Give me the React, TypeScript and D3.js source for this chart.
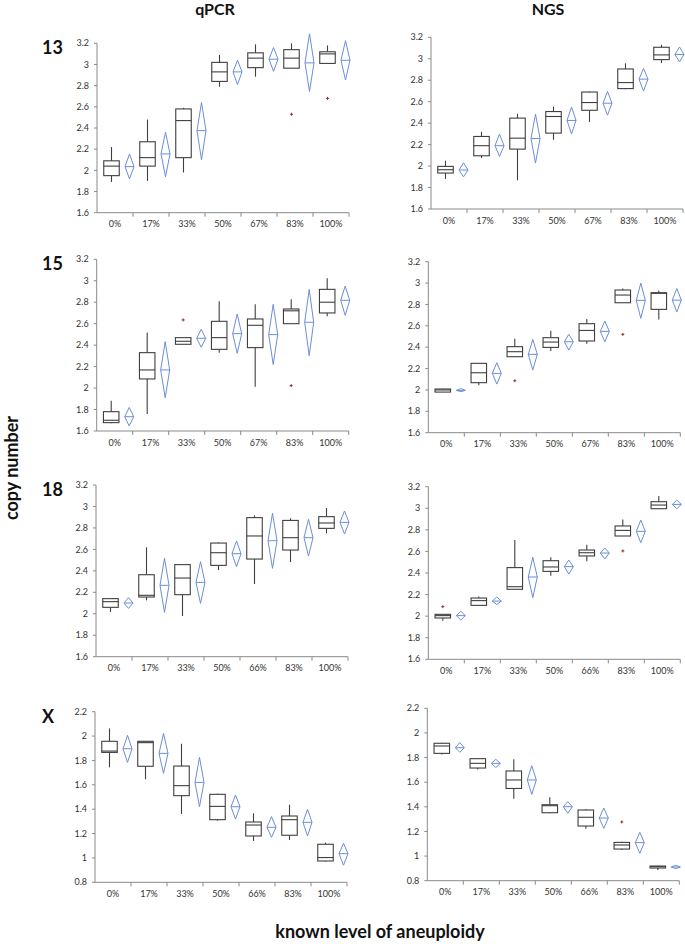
import * as d3 from "d3";

// categories
const catsA = ["0%", "17%", "33%", "50%", "67%", "83%", "100%"];
const catsB = ["0%", "17%", "33%", "50%", "66%", "83%", "100%"];

// y tick labels
const ticksHigh = ["1.6", "1.8", "2", "2.2", "2.4", "2.6", "2.8", "3", "3.2"];
const ticksLow = ["0.8", "1", "1.2", "1.4", "1.6", "1.8", "2", "2.2"];

// box stats: [low whisker, q1, median, q3, high whisker]
// mean diamonds: [ci low, mean, ci high]
// outliers: [category index, value]
const q13Box = [[1.89, 1.95, 2.04, 2.09, 2.22], [1.9, 2.04, 2.12, 2.27, 2.48], [1.98, 2.12, 2.47, 2.58, 2.59], [2.79, 2.84, 2.93, 3.02, 3.09], [2.885, 2.97, 3.06, 3.11, 3.19], [2.965, 2.965, 3.06, 3.14, 3.2], [3.01, 3.01, 3.1, 3.12, 3.18]];
const q13Mean = [[1.92, 2.035, 2.155], [1.94, 2.155, 2.36], [2.1, 2.375, 2.64], [2.81, 2.93, 3.04], [2.935, 3.05, 3.16], [2.745, 3.015, 3.29], [2.853, 3.04, 3.225]];
const q13Out = [[5, 2.53], [6, 2.68]];

const n13Box = [[1.88, 1.935, 1.966, 1.997, 2.05], [2.074, 2.096, 2.19, 2.276, 2.32], [1.867, 2.158, 2.26, 2.447, 2.487], [2.245, 2.307, 2.462, 2.508, 2.555], [2.412, 2.52, 2.592, 2.69, 2.695], [2.716, 2.722, 2.778, 2.905, 2.958], [2.96, 2.992, 3.036, 3.107, 3.13]];
const n13Mean = [[1.9, 1.963, 2.03], [2.09, 2.19, 2.298], [2.028, 2.257, 2.484], [2.3, 2.425, 2.55], [2.474, 2.586, 2.695], [2.7, 2.81, 2.909], [2.97, 3.04, 3.11]];
const n13Out: number[][] = [];

const q15Box = [[1.672, 1.678, 1.7, 1.78, 1.883], [1.758, 2.085, 2.169, 2.33, 2.517], [2.408, 2.408, 2.436, 2.47, 2.47], [2.33, 2.361, 2.47, 2.622, 2.81], [2.013, 2.377, 2.585, 2.644, 2.78], [2.6, 2.6, 2.72, 2.737, 2.827], [2.669, 2.7, 2.8, 2.92, 3.023]];
const q15Mean = [[1.647, 1.733, 1.82], [1.91, 2.169, 2.433], [2.38, 2.464, 2.548], [2.324, 2.507, 2.69], [2.22, 2.498, 2.78], [2.302, 2.613, 2.92], [2.678, 2.818, 2.95]];
const q15Out = [[2, 2.635], [5, 2.023]];

const n15Box = [[1.98, 1.98, 2.0, 2.009, 2.012], [2.043, 2.068, 2.161, 2.249, 2.249], [2.311, 2.311, 2.358, 2.405, 2.479], [2.364, 2.398, 2.448, 2.489, 2.554], [2.432, 2.458, 2.557, 2.62, 2.663], [2.816, 2.816, 2.888, 2.935, 2.95], [2.66, 2.754, 2.904, 2.91, 2.93]];
const n15Mean = [[1.984, 1.996, 2.012], [2.055, 2.155, 2.255], [2.186, 2.333, 2.473], [2.373, 2.451, 2.52], [2.45, 2.548, 2.645], [2.67, 2.838, 3.0], [2.73, 2.84, 2.95]];
const n15Out = [[2, 2.086], [5, 2.52]];

const q18Box = [[2.016, 2.06, 2.113, 2.141, 2.141], [2.125, 2.156, 2.172, 2.364, 2.619], [1.979, 2.178, 2.333, 2.458, 2.458], [2.408, 2.451, 2.569, 2.659, 2.666], [2.277, 2.51, 2.725, 2.896, 2.917], [2.482, 2.594, 2.709, 2.87, 2.89], [2.75, 2.796, 2.846, 2.905, 2.986]];
const q18Mean = [[2.05, 2.1, 2.15], [2.013, 2.265, 2.517], [2.097, 2.293, 2.485], [2.439, 2.56, 2.678], [2.423, 2.681, 2.936], [2.538, 2.709, 2.88], [2.743, 2.852, 2.958]];
const q18Out: number[][] = [];

const n18Box = [[1.958, 1.983, 2.005, 2.017, 2.017], [2.1, 2.1, 2.144, 2.168, 2.181], [2.249, 2.249, 2.273, 2.45, 2.706], [2.375, 2.415, 2.456, 2.514, 2.545], [2.508, 2.558, 2.588, 2.613, 2.663], [2.743, 2.743, 2.795, 2.836, 2.897], [2.996, 2.996, 3.03, 3.061, 3.114]];
const n18Mean = [[1.964, 2.005, 2.045], [2.107, 2.14, 2.178], [2.171, 2.363, 2.545], [2.39, 2.459, 2.52], [2.53, 2.585, 2.632], [2.681, 2.786, 2.891], [2.996, 3.036, 3.076]];
const n18Out = [[0, 2.088], [5, 2.604]];

const qXBox = [[1.743, 1.866, 1.877, 1.957, 2.063], [1.645, 1.752, 1.946, 1.957, 1.957], [1.361, 1.511, 1.593, 1.754, 1.937], [1.306, 1.314, 1.423, 1.522, 1.527], [1.139, 1.18, 1.27, 1.295, 1.366], [1.147, 1.186, 1.314, 1.344, 1.437], [0.97, 0.975, 1.003, 1.112, 1.125]];
const qXMean = [[1.784, 1.896, 2.006], [1.694, 1.858, 2.022], [1.421, 1.62, 1.825], [1.319, 1.42, 1.516], [1.169, 1.251, 1.339], [1.18, 1.292, 1.399], [0.94, 1.035, 1.12]];
const qXOut: number[][] = [];

const nXBox = [[1.824, 1.834, 1.894, 1.916, 1.921], [1.704, 1.715, 1.753, 1.791, 1.797], [1.466, 1.549, 1.618, 1.691, 1.786], [1.347, 1.352, 1.409, 1.417, 1.477], [1.222, 1.244, 1.315, 1.374, 1.38], [1.049, 1.057, 1.09, 1.111, 1.117], [0.887, 0.903, 0.914, 0.919, 0.922]];
const nXMean = [[1.843, 1.88, 1.921], [1.718, 1.753, 1.786], [1.501, 1.618, 1.734], [1.347, 1.401, 1.442], [1.225, 1.309, 1.39], [1.022, 1.109, 1.193], [0.898, 0.911, 0.925]];
const nXOut = [[5, 1.277]];

const rowLabels = ["13", "15", "18", "X"];

const AXIS = "#8a8a8a";
const BOX = "#3f3f3f";
const BLUE = "#6a8fd8";
const RED = "#9b2c2c";
const FONT = "Lato, 'Open Sans', sans-serif";

// panel placement
const panels = [
  { box: q13Box, mean: q13Mean, out: q13Out, cats: catsA, ticks: ticksHigh, x0: 97, yTop: 43.3, yBot: 212.7 },
  { box: n13Box, mean: n13Mean, out: n13Out, cats: catsA, ticks: ticksHigh, x0: 431, yTop: 37.3, yBot: 209 },
  { box: q15Box, mean: q15Mean, out: q15Out, cats: catsA, ticks: ticksHigh, x0: 96.7, yTop: 259.3, yBot: 431 },
  { box: n15Box, mean: n15Mean, out: n15Out, cats: catsA, ticks: ticksHigh, x0: 428.3, yTop: 261.7, yBot: 432.7 },
  { box: q18Box, mean: q18Mean, out: q18Out, cats: catsB, ticks: ticksHigh, x0: 96, yTop: 485, yBot: 656.7 },
  { box: n18Box, mean: n18Mean, out: n18Out, cats: catsB, ticks: ticksHigh, x0: 428.3, yTop: 486.7, yBot: 659.3 },
  { box: qXBox, mean: qXMean, out: qXOut, cats: catsB, ticks: ticksLow, x0: 95, yTop: 711.7, yBot: 882.3 },
  { box: nXBox, mean: nXMean, out: nXOut, cats: catsB, ticks: ticksLow, x0: 427.3, yTop: 708.3, yBot: 880.7 },
];

const Panel = ({ p }: { p: (typeof panels)[number] }) => {
  const bandW = 36;
  const x = d3.scaleBand().domain(p.cats).range([p.x0, p.x0 + bandW * p.cats.length]).padding(0);
  const tv = p.ticks.map(Number);
  const y = d3.scaleLinear().domain([tv[0], tv[tv.length - 1]]).range([p.yBot, p.yTop]);
  const boxW = 15.5;
  const dW = 4.5;
  const x1 = x.range()[1];

  return (
    <g>
      {/* y axis */}
      <line x1={p.x0} x2={p.x0} y1={p.yTop} y2={p.yBot} stroke={AXIS} strokeWidth={1} />
      {p.ticks.map((t, i) => (
        <g key={"yt" + i}>
          <line x1={p.x0 - 3} x2={p.x0} y1={y(tv[i])} y2={y(tv[i])} stroke={AXIS} />
          <text x={p.x0 - 8} y={y(tv[i])} dy="0.35em" textAnchor="end" fontSize={9} fill="#333" fontFamily={FONT}>
            {t}
          </text>
        </g>
      ))}
      {/* x axis */}
      <line x1={p.x0} x2={x1} y1={p.yBot} y2={p.yBot} stroke={AXIS} strokeWidth={1} />
      {p.cats.map((c, i) => {
        const bx = x(c) ?? 0;
        return (
          <g key={"xt" + i}>
            <line x1={bx + bandW} x2={bx + bandW} y1={p.yBot} y2={p.yBot + 4} stroke={AXIS} />
            <text x={bx + bandW / 2} y={p.yBot + 11.5} dy="0.35em" textAnchor="middle" fontSize={9} fill="#333" fontFamily={FONT}>
              {c}
            </text>
          </g>
        );
      })}
      {/* boxes */}
      {p.box.map((b, i) => {
        const cx = (x(p.cats[i]) ?? 0) + 14.5;
        const [lo, q1, md, q3, hi] = b;
        return (
          <g key={"b" + i} stroke={BOX} strokeWidth={1.1} fill="none">
            <line x1={cx} x2={cx} y1={y(hi)} y2={y(q3)} />
            <line x1={cx} x2={cx} y1={y(q1)} y2={y(lo)} />
            <rect x={cx - boxW / 2} y={y(q3)} width={boxW} height={Math.max(1, y(q1) - y(q3))} fill="white" />
            <line x1={cx - boxW / 2} x2={cx + boxW / 2} y1={y(md)} y2={y(md)} />
          </g>
        );
      })}
      {/* mean diamonds */}
      {p.mean.map((m, i) => {
        const cx = (x(p.cats[i]) ?? 0) + 32.5;
        const [lo, mu, hi] = m;
        const pts = [[cx, y(hi)], [cx + dW, y(mu)], [cx, y(lo)], [cx - dW, y(mu)]];
        return (
          <g key={"d" + i} stroke={BLUE} strokeWidth={1} fill="none">
            <polygon points={pts.map((q) => q.join(",")).join(" ")} />
            <line x1={cx - dW} x2={cx + dW} y1={y(mu)} y2={y(mu)} />
          </g>
        );
      })}
      {/* outliers */}
      {p.out.map((o, i) => {
        const cx = (x(p.cats[o[0]]) ?? 0) + 14.5;
        const cy = y(o[1]);
        return (
          <g key={"o" + i} stroke={RED} strokeWidth={1}>
            <line x1={cx - 1.5} x2={cx + 1.5} y1={cy} y2={cy} />
            <line x1={cx} x2={cx} y1={cy - 1.5} y2={cy + 1.5} />
          </g>
        );
      })}
    </g>
  );
};

export default function App() {
  const rowTops = [panels[0].yTop, panels[2].yTop, panels[4].yTop, panels[6].yTop];
  return (
    <svg width={685} height={946} style={{ position: "absolute", left: 0, top: 0, background: "white" }}>
      <rect width={685} height={946} fill="white" />
      <text x={215} y={15} textAnchor="middle" fontSize={16} fontWeight="bold" fontFamily={FONT} fill="#111">qPCR</text>
      <text x={548} y={15} textAnchor="middle" fontSize={16} fontWeight="bold" fontFamily={FONT} fill="#111">NGS</text>
      {rowLabels.map((r, i) => (
        <text key={r} x={42} y={rowTops[i] + 11} fontSize={18} fontWeight="bold" fontFamily={FONT} fill="#111">
          {r}
        </text>
      ))}
      <text transform="translate(18,468) rotate(-90)" textAnchor="middle" fontSize={18} fontWeight="bold" fontFamily={FONT} fill="#111">
        copy number
      </text>
      <text x={380} y={938} textAnchor="middle" fontSize={18} fontWeight="bold" fontFamily={FONT} fill="#111">
        known level of aneuploidy
      </text>
      {panels.map((p, i) => (
        <Panel key={i} p={p} />
      ))}
    </svg>
  );
}
